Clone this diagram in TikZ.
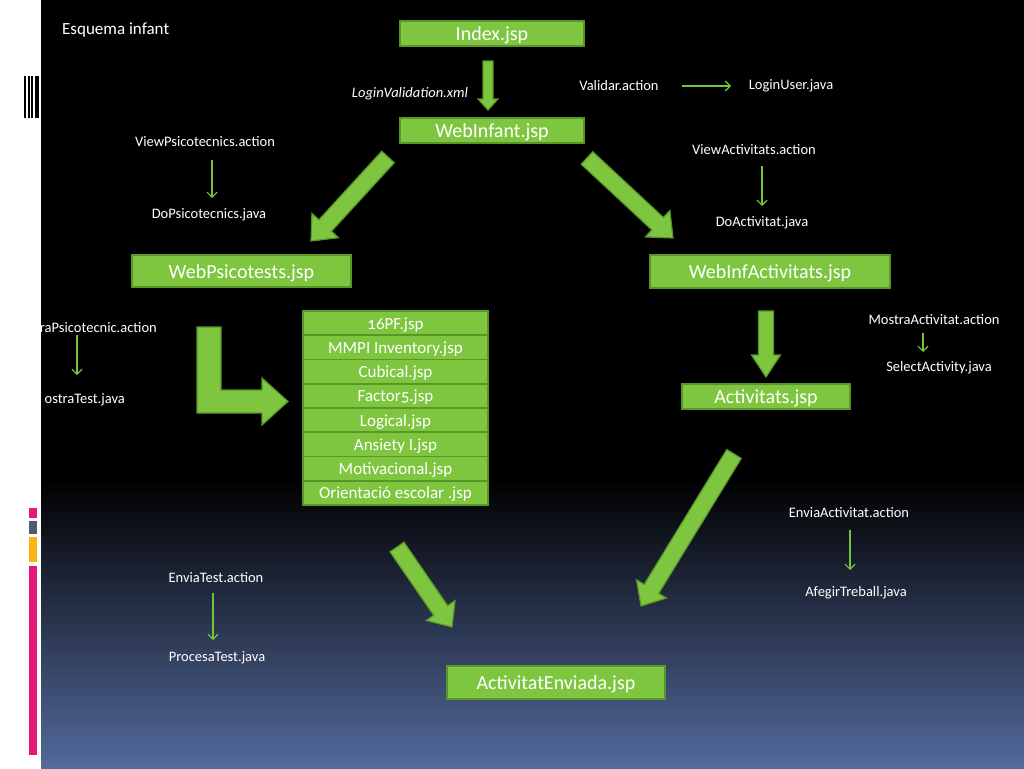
\documentclass[tikz,border=0pt]{standalone}
\usepackage{fontspec}
\setmainfont{Carlito}[Numbers=OldStyle]
\usetikzlibrary{calc,arrows.meta}
\definecolor{boxgreen}{RGB}{126,198,64}
\definecolor{boxedge}{RGB}{88,150,40}
\definecolor{thingreen}{RGB}{118,196,60}
\definecolor{bgblue}{RGB}{84,106,156}
\definecolor{barpink}{RGB}{228,24,120}
\definecolor{bargray}{RGB}{78,90,110}
\definecolor{barorange}{RGB}{252,180,20}
\newcommand\blockarr[5]{%
 \coordinate (#1#2c) at ($(#2)!#5!(#1)$);
 \filldraw[bigarrow] ($(#1)!#3!90:(#2)$) -- ($(#1#2c)!#3!-90:(#1)$) -- ($(#1#2c)!#4!-90:(#1)$) -- (#2) -- ($(#1#2c)!#4!90:(#1)$) -- ($(#1#2c)!#3!90:(#1)$) -- ($(#1)!#3!-90:(#2)$) -- cycle;}
\begin{document}
\begin{tikzpicture}[x=1pt,y=-1pt,
 jspbox/.style={draw=boxedge, fill=boxgreen, line width=1.5pt, text=white, inner sep=0pt, text height=17pt, text depth=3pt, font=\fontsize{20}{22}\selectfont},
 listbox/.style={jspbox, minimum width=185pt, minimum height=24.25pt, text height=14.5pt, text depth=2.5pt, font=\fontsize{17}{19}\selectfont},
 lbl/.style={text=white, inner sep=1pt, yshift=-1.5pt, font=\fontsize{14.5}{16}\selectfont},
 thinarr/.style={draw=thingreen, line width=1.2pt, -{Straight Barb[length=5pt,width=10pt]}},
 bigarrow/.style={fill=boxgreen, draw=boxedge, line width=1.2pt, line join=miter}]
\useasboundingbox (0,0) rectangle (1024,768);
% background
\fill[white] (0,0) rectangle (41,768);
\fill[black] (41,0) rectangle (1024,480);
\shade[top color=black, bottom color=bgblue] (41,480) rectangle (1024,768);
% left decorations
\fill[black] (24,76) rectangle (26,118);
\fill[black] (27.5,76) rectangle (29.5,118);
\fill[black] (31,76) rectangle (33,118);
\fill[black] (34.5,76) rectangle (38.5,118);
\fill[barpink] (29,508) rectangle (37,518);
\fill[bargray] (29,521) rectangle (37,534);
\fill[barorange] (29,537) rectangle (37,562);
\fill[barpink] (29,566) rectangle (37,755);

% title
\node[lbl, anchor=west, font=\fontsize{17}{19}\selectfont] (title) at (61,29) {Esquema infant};

% main boxes
\node[jspbox, minimum width=184pt, minimum height=25pt] (index) at (492,33.5) {Index.jsp};
\node[jspbox, minimum width=184pt, minimum height=25pt] (webinf) at (492,130.5) {WebInfant.jsp};
\node[jspbox, minimum width=219pt, minimum height=32pt] (webpsi) at (241.5,271) {WebPsicotests.jsp};
\node[jspbox, minimum width=240pt, minimum height=33pt] (webact) at (770,271.5) {WebInfActivitats.jsp};
\node[jspbox, minimum width=168pt, minimum height=25pt] (acts) at (766,396.5) {Activitats.jsp};
\node[jspbox, minimum width=218pt, minimum height=33pt] (envi) at (556,682.5) {ActivitatEnviada.jsp};

% list of tests
\node[listbox] (l1) at (395.5,323.1) {16PF.jsp};
\node[listbox] (l2) at (395.5,347.4) {MMPI Inventory.jsp};
\node[listbox] (l3) at (395.5,371.6) {Cubical.jsp};
\node[listbox] (l4) at (395.5,395.9) {Factor5.jsp};
\node[listbox] (l5) at (395.5,420.1) {Logical.jsp};
\node[listbox] (l6) at (395.5,444.4) {Ansiety I.jsp};
\node[listbox] (l7) at (395.5,468.6) {Motivacional.jsp};
\node[listbox] (l8) at (395.5,492.9) {Orientació escolar .jsp};

% labels
\node[lbl, font=\fontsize{14.5}{16}\selectfont\itshape] (lv) at (410,92) {LoginValidation.xml};
\node[lbl] (val) at (619,84) {Validar.action};
\node[lbl] (lu) at (791,84) {LoginUser.java};
\node[lbl] (vp) at (205,140) {ViewPsicotecnics.action};
\node[lbl] (dp) at (209,213) {DoPsicotecnics.java};
\node[lbl] (va) at (754,148) {ViewActivitats.action};
\node[lbl] (da) at (762,221) {DoActivitat.java};
\node[lbl, anchor=east] (mp) at (158,326) {raPsicotecnic.action};
\node[lbl, anchor=east] (mt) at (126,398) {ostraTest.java};
\node[lbl] (ma) at (934,318) {MostraActivitat.action};
\node[lbl] (sa) at (939,366) {SelectActivity.java};
\node[lbl] (ea) at (849,511) {EnviaActivitat.action};
\node[lbl] (at) at (856,591) {AfegirTreball.java};
\node[lbl] (et) at (216,576) {EnviaTest.action};
\node[lbl] (pt) at (217,656) {ProcesaTest.java};

% thin arrows
\coordinate (valA) at (682,86); \coordinate (valB) at (731,86);
\coordinate (vpA) at (212,160); \coordinate (vpB) at (212,198);
\coordinate (vaA) at (762,166); \coordinate (vaB) at (762,206);
\coordinate (mpA) at (77,335); \coordinate (mpB) at (77,375);
\coordinate (maA) at (923,333); \coordinate (maB) at (923,352);
\coordinate (eaA) at (850,530); \coordinate (eaB) at (850,570);
\coordinate (etA) at (213,593); \coordinate (etB) at (213,640);
\draw[thinarr] (valA) -- (valB);
\draw[thinarr] (vpA) -- (vpB);
\draw[thinarr] (vaA) -- (vaB);
\draw[thinarr] (mpA) -- (mpB);
\draw[thinarr] (maA) -- (maB);
\draw[thinarr] (eaA) -- (eaB);
\draw[thinarr] (etA) -- (etB);

% block arrows
\coordinate (ia) at (488,61); \coordinate (ib) at (488,110);
\blockarr{ia}{ib}{5pt}{10pt}{11pt}
\coordinate (pa) at (388,157); \coordinate (pb) at (311,241);
\blockarr{pa}{pb}{8.5pt}{18pt}{21pt}
\coordinate (qa) at (587,158); \coordinate (qb) at (673,238);
\blockarr{qa}{qb}{8.5pt}{18pt}{21pt}
\coordinate (ra) at (766,311); \coordinate (rb) at (766,377);
\blockarr{ra}{rb}{7.5pt}{14.5pt}{22pt}
\coordinate (sa1) at (397,547); \coordinate (sb1) at (452,627);
\blockarr{sa1}{sb1}{8.5pt}{17.5pt}{20pt}
\coordinate (ta) at (734,454); \coordinate (tb) at (641,606);
\blockarr{ta}{tb}{8.5pt}{17.5pt}{20pt}
% L-shaped arrow
\filldraw[bigarrow] (197,327) -- (221,327) -- (221,390) -- (262,390) -- (262,378) -- (288,401.5) -- (262,425) -- (262,413) -- (197,413) -- cycle;
\end{tikzpicture}
\end{document}
